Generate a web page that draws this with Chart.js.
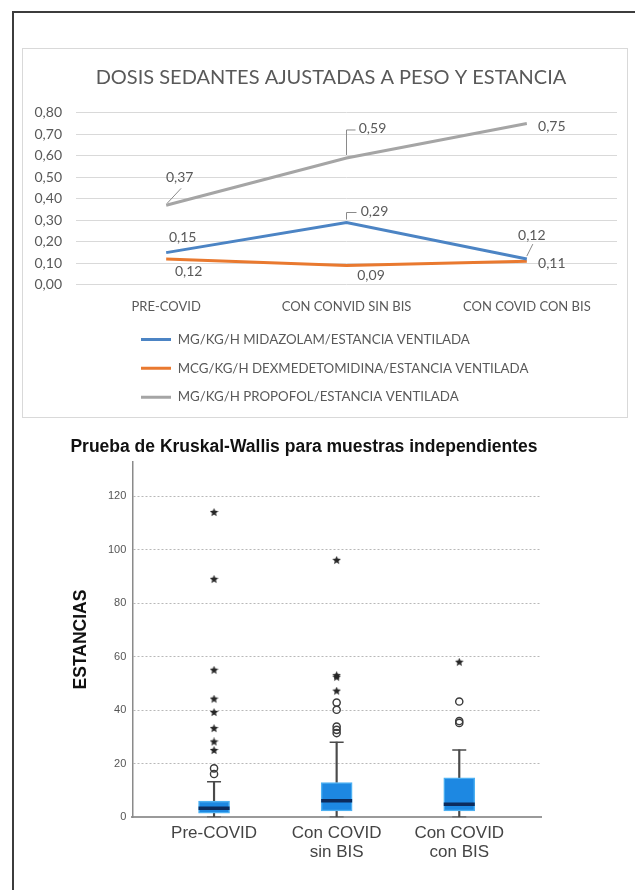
<!DOCTYPE html>
<html><head><meta charset="utf-8">
<script src="https://cdn.jsdelivr.net/npm/chart.js@4.4.1/dist/chart.umd.min.js"></script>
<style>
html,body{margin:0;padding:0;background:#fff;width:635px;height:890px;overflow:hidden;}
#frame{position:absolute;left:12px;top:11px;width:640px;height:900px;border-left:2px solid #3c3c3c;border-top:2px solid #3c3c3c;}
#panel{position:absolute;left:22px;top:48px;width:604px;height:368px;border:1px solid #d9d9d9;}
#c1{position:absolute;left:23px;top:49px;}
#c2{position:absolute;left:60px;top:425px;}
</style></head><body>
<div id="frame"></div><div id="panel"></div>
<canvas id="c1" width="604" height="368"></canvas>
<canvas id="c2" width="500" height="455"></canvas>
<script>
// ---------- Chart 1 data ----------
const doseCategories = ['PRE-COVID', 'CON CONVID SIN BIS', 'CON COVID CON BIS'];
const seriesNames = ['MG/KG/H MIDAZOLAM/ESTANCIA VENTILADA', 'MCG/KG/H DEXMEDETOMIDINA/ESTANCIA VENTILADA', 'MG/KG/H PROPOFOL/ESTANCIA VENTILADA'];
const midazolam = [0.15, 0.29, 0.12];
const dexmedetomidina = [0.12, 0.09, 0.11];
const propofol = [0.37, 0.59, 0.75];
const doseTicks = [0, 0.1, 0.2, 0.3, 0.4, 0.5, 0.6, 0.7, 0.8];

// ---------- Chart 2 data ----------
const groups = [['Pre-COVID'], ['Con COVID', 'sin BIS'], ['Con COVID', 'con BIS']];
const whiskerLow = [0, 0, 0];
const q1 = [1.5, 2.4, 2.4];
const median = [3.4, 6.2, 4.9];
const q3 = [6.1, 13.0, 14.8];
const whiskerHigh = [13.3, 28.1, 25.2];
const outliers = [[16.2, 18.3], [31.5, 32.7, 33.9, 40.2, 42.9], [35.3, 36.0, 43.3]];
const extremes = [[25, 28.2, 33.2, 39.2, 44.2, 55, 89, 114], [47.2, 52.4, 53.0, 96.1], [58]];
const estanciasTicks = [0, 20, 40, 60, 80, 100, 120];

// ---------- styles ----------
const lineColors = ['#4c84c4', '#e9792f', '#a5a5a5'];
// label offsets relative to each point (style only)
const labelStyle = [
  [{dx:16.5,dy:-15}, {dx:28,dy:-11,lead:[[0,-3],[0,-10],[10,-10]]}, {dx:5,dy:-23.6,lead:[[0,-3],[6,-15]]}],
  [{dx:22.5,dy:12.4}, {dx:24.5,dy:10}, {dx:25,dy:2.3}],
  [{dx:13.5,dy:-28,lead:[[1,-2],[15,-17]]}, {dx:26,dy:-29,lead:[[0,-3],[0,-28],[9,-28]]}, {dx:25,dy:2.6}]
];
const fmt = v => v.toFixed(2).replace('.', ',');

const doseLabels = {
  id: 'doseLabels',
  afterDatasetsDraw(chart) {
    const ctx = chart.ctx;
    ctx.save();
    ctx.font = '14px Lato';
    ctx.fillStyle = '#595959';
    ctx.textAlign = 'center';
    ctx.textBaseline = 'middle';
    chart.data.datasets.forEach((ds, i) => {
      const meta = chart.getDatasetMeta(i);
      meta.data.forEach((pt, j) => {
        const st = labelStyle[i][j];
        if (st.lead) {
          ctx.beginPath();
          ctx.strokeStyle = '#8a8a8a';
          ctx.lineWidth = 1;
          st.lead.forEach((p, k) => { ctx[k ? 'lineTo' : 'moveTo'](pt.x + p[0], pt.y + p[1]); });
          ctx.stroke();
        }
        ctx.fillText(fmt(ds.data[j]), pt.x + st.dx, pt.y + st.dy);
      });
    });
    ctx.restore();
  }
};
const layoutTweak = {
  id: 'layoutTweak',
  afterLayout(chart) {
    const lg = chart.legend;
    if (lg) { lg.left = 118 - lg.options.labels.padding; }
    const tb = chart.titleBlock;
    if (tb) { tb.left += 11; tb.right += 11; }
  }
};

new Chart(document.getElementById('c1'), {
  type: 'line',
  data: {
    labels: doseCategories,
    datasets: [midazolam, dexmedetomidina, propofol].map((d, i) => ({
      label: seriesNames[i], data: d, borderColor: lineColors[i], backgroundColor: lineColors[i],
      borderWidth: 3, pointRadius: 0, pointBorderWidth: 3, tension: 0, fill: false
    }))
  },
  options: {
    responsive: false, animation: false, devicePixelRatio: 1,
    layout: {padding: {left: 0, right: 10, top: 0, bottom: 3.2}},
    plugins: {
      legend: {display: true, position: 'bottom', align: 'start',
        labels: {usePointStyle: true, pointStyle: 'line', pointStyleWidth: 30, padding: 15.5, color: '#595959', font: {family: 'Lato', size: 13.3}}},
      title: {display: true, text: 'DOSIS SEDANTES AJUSTADAS A PESO Y ESTANCIA', color: '#595959',
        font: {family: 'Lato', size: 20, weight: 'normal'}, padding: {top: 16.5, bottom: 23.3}},
      tooltip: {enabled: false}
    },
    scales: {
      x: {offset: true, grid: {display: false, drawTicks: false}, border: {display: false},
        ticks: {color: '#595959', font: {family: 'Lato', size: 13}, padding: 13.9, maxRotation: 0},
        afterFit: ax => { ax.height = 32.5; }},
      y: {min: 0, max: 0.8,
        afterBuildTicks: ax => { ax.ticks = doseTicks.map(v => ({value: v})); },
        ticks: {callback: v => fmt(v), color: '#595959', font: {family: 'Lato', size: 14}, padding: 14},
        grid: {color: '#d9d9d9', drawTicks: false}, border: {display: false},
        afterFit: ax => { ax.width = 53; }}
    }
  },
  plugins: [doseLabels, layoutTweak]
});

// ---------- Chart 2: boxplot ----------
function makeStar(size, color) {
  const c = document.createElement('canvas');
  c.width = c.height = size;
  const g = c.getContext('2d');
  g.fillStyle = color;
  g.beginPath();
  const cx = size / 2, cy = size / 2, R = size / 2, r = R * 0.45;
  for (let k = 0; k < 10; k++) {
    const a = -Math.PI / 2 + k * Math.PI / 5;
    const rad = k % 2 ? r : R;
    g.lineTo(cx + rad * Math.cos(a), cy + rad * Math.sin(a));
  }
  g.closePath(); g.fill();
  return c;
}
const starImg = makeStar(9, '#262626');
const xs = groups.map((g, i) => i + 1);
const whiskerData = [];
xs.forEach((x, i) => { whiskerData.push({x, y: [q3[i], whiskerHigh[i]]}); whiskerData.push({x, y: [whiskerLow[i], q1[i]]}); });
const capData = [];
xs.forEach((x, i) => { capData.push({x, y: whiskerHigh[i]}); capData.push({x, y: whiskerLow[i]}); });
const circleData = [];
outliers.forEach((arr, i) => arr.forEach(v => circleData.push({x: xs[i], y: v})));
const starData = [];
extremes.forEach((arr, i) => arr.forEach(v => starData.push({x: xs[i], y: v})));

new Chart(document.getElementById('c2'), {
  type: 'bar',
  data: {
    datasets: [
      {type: 'bar', data: whiskerData, backgroundColor: '#4a4a4a', barThickness: 1.5, grouped: false, order: 5},
      {type: 'bar', data: xs.map((x, i) => ({x, y: [q1[i], q3[i]]})), backgroundColor: '#1d88e2',
        borderColor: '#4db0f2', borderWidth: 1.5, borderSkipped: false, barThickness: 31, grouped: false, order: 4},
      {type: 'scatter', data: xs.map((x, i) => ({x, y: median[i]})), pointStyle: 'line', pointRadius: 15.5,
        borderWidth: 3.5, borderColor: '#0c2b5c', order: 3},
      {type: 'scatter', data: capData, pointStyle: 'line', pointRadius: 7, borderWidth: 1.5, borderColor: '#4a4a4a', order: 3},
      {type: 'scatter', data: circleData, pointStyle: 'circle', pointRadius: 3.6, borderWidth: 1.4,
        borderColor: '#3a3a3a', backgroundColor: 'rgba(255,255,255,0)', order: 1},
      {type: 'scatter', data: starData, pointStyle: starImg, pointRadius: 4, order: 1}
    ]
  },
  options: {
    responsive: false, animation: false, devicePixelRatio: 1,
    layout: {padding: {left: 7, right: 19, top: 0, bottom: 0}},
    plugins: {
      legend: {display: false}, tooltip: {enabled: false},
      title: {display: true, text: 'Prueba de Kruskal-Wallis para muestras independientes', color: '#111',
        font: {family: 'Liberation Sans', size: 17.5, weight: 'bold'}, padding: {top: 11.5, bottom: 4.2}}
    },
    scales: {
      x: {type: 'linear', offset: false, min: 1 / 3, max: 11 / 3,
        afterBuildTicks: ax => { ax.ticks = xs.map(v => ({value: v})); },
        ticks: {callback: v => groups[Math.round(v) - 1], color: '#444', font: {family: 'Liberation Sans', size: 17, lineHeight: 1.12},
          padding: 6.2, autoSkip: false, maxRotation: 0},
        grid: {display: false, drawTicks: false}, border: {display: true, color: '#9a9a9a', width: 2},
        afterFit: ax => { ax.height = 62.7; }},
      y: {type: 'linear', min: 0, max: 133,
        afterBuildTicks: ax => { ax.ticks = estanciasTicks.map(v => ({value: v})); },
        ticks: {color: '#555', font: {family: 'Liberation Sans', size: 11}, padding: 6},
        grid: {color: c => (c.tick && c.tick.value === 0) ? 'rgba(0,0,0,0)' : '#b8b8b8', drawTicks: false},
        border: {display: true, color: '#8a8a8a', width: 1.5, dash: [2, 2]},
        title: {display: true, text: 'ESTANCIAS', color: '#111', font: {family: 'Liberation Sans', size: 17.5, weight: 'bold'},
          padding: {top: 4, bottom: 0}},
        afterFit: ax => { ax.width = 65.3; }}
    }
  }
});
</script></body></html>
